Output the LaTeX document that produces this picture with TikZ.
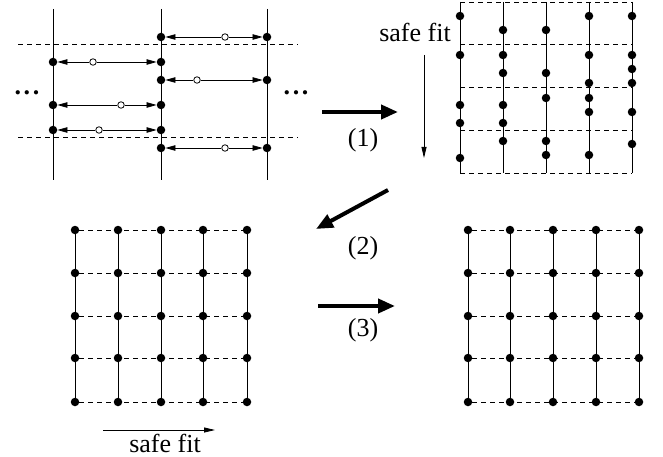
\documentclass[tikz,border=0pt]{standalone}
\usepackage{fontspec}
\setmainfont{Liberation Serif}
\usetikzlibrary{arrows.meta,positioning}
\tikzset{
  pdot/.style={circle, fill=black, inner sep=0pt, minimum size=8.5pt},
  odot/.style={circle, draw=black, fill=white, line width=0.8pt, inner sep=0pt, minimum size=6.5pt},
  colline/.style={line width=0.9pt},
  cutline/.style={line width=0.8pt, dash pattern=on 5pt off 4pt},
  pull/.style={-{Triangle[length=10pt,width=5.5pt]}, line width=0.8pt},
  fitarrow/.style={-{Triangle[length=11pt,width=5pt]}, line width=0.8pt},
  bigstep/.style={-{Triangle[length=17pt,width=14pt]}, line width=4pt},
  lbl/.style={font=\fontsize{26}{29}\selectfont, inner sep=0pt},
}

\begin{document}
\begin{tikzpicture}[x=1pt, y=-1pt]
  \useasboundingbox (0,0) rectangle (663,457);

  % panel 1: neighbouring columns before the fit
  \coordinate (v1t) at (53,9);   \coordinate (v1b) at (53,180);
  \coordinate (v2t) at (161,9);  \coordinate (v2b) at (161,180);
  \coordinate (v3t) at (267,9);  \coordinate (v3b) at (267,180);
  \coordinate (h1l) at (18,44);  \coordinate (h1r) at (298,44);
  \coordinate (h2l) at (18,137); \coordinate (h2r) at (298,137);
  \draw[colline] (v1t) -- (v1b);
  \draw[colline] (v2t) -- (v2b);
  \draw[colline] (v3t) -- (v3b);
  \draw[cutline] (h1l) -- (h1r);
  \draw[cutline] (h2l) -- (h2r);

  \node[pdot] (a1) at (53,62) {};
  \node[pdot] (a2) at (53,105) {};
  \node[pdot] (a3) at (53,130) {};
  \node[pdot] (b1) at (161,37) {};
  \node[pdot] (b2) at (161,62) {};
  \node[pdot] (b3) at (161,80) {};
  \node[pdot] (b4) at (161,105) {};
  \node[pdot] (b5) at (161,130) {};
  \node[pdot] (b6) at (161,148) {};
  \node[pdot] (c1) at (267,37) {};
  \node[pdot] (c2) at (267,80) {};
  \node[pdot] (c3) at (267,148) {};

  \node[odot] (o1) at (93,62) {};
  \node[odot] (o2) at (121,105) {};
  \node[odot] (o3) at (99,130) {};
  \node[odot] (o4) at (225,37) {};
  \node[odot] (o5) at (197,80) {};
  \node[odot] (o6) at (225,148) {};

  \draw[pull] (o1) -- (a1);  \draw[pull] (o1) -- (b2);
  \draw[pull] (o2) -- (a2);  \draw[pull] (o2) -- (b4);
  \draw[pull] (o3) -- (a3);  \draw[pull] (o3) -- (b5);
  \draw[pull] (o4) -- (b1);  \draw[pull] (o4) -- (c1);
  \draw[pull] (o5) -- (b3);  \draw[pull] (o5) -- (c2);
  \draw[pull] (o6) -- (b6);  \draw[pull] (o6) -- (c3);

  \node[lbl, anchor=base] (dotsl) at (27,95) {\bfseries .\kern2.6pt.\kern2.6pt.};
  \node[lbl, anchor=base] (dotsr) at (296,95) {\bfseries .\kern2.6pt.\kern2.6pt.};

  % panel 2: after the vertical fit
  \foreach \x [count=\i] in {460,503,546,589,632} {
    \coordinate (ct\i) at (\x,2);
    \coordinate (cb\i) at (\x,173);
    \draw[colline] (ct\i) -- (cb\i);
  }
  \draw[cutline] (ct1) -- (ct5);
  \draw[cutline] (cb1) -- (cb5);
  \foreach \y [count=\j] in {44,87,130} {
    \coordinate (rl\j) at (460,\y);
    \coordinate (rr\j) at (632,\y);
    \draw[cutline] (rl\j) -- (rr\j);
  }
  \foreach \y in {16,55,105,123,158} \node[pdot] at (460,\y) {};
  \foreach \y in {30,55,73,105,123,141} \node[pdot] at (503,\y) {};
  \foreach \y in {30,73,98,141,155} \node[pdot] at (546,\y) {};
  \foreach \y in {16,55,83,98,112,155} \node[pdot] at (589,\y) {};
  \foreach \y in {16,55,69,83,112,144} \node[pdot] at (632,\y) {};

  \node[lbl, anchor=base] (fitv) at (415,41.5) {safe fit};
  \coordinate (fvs) at (424,55);
  \coordinate (fve) at (424,158);
  \draw[fitarrow] (fvs) -- (fve);

  % panels 3 and 4: regular grids
  \foreach \x [count=\i] in {75,118,161,203,247}
    \foreach \y [count=\j] in {230,273,316,358,402}
      \node[pdot] (l-\i-\j) at (\x,\y) {};
  \foreach \x [count=\i] in {468,510,553,596,639}
    \foreach \y [count=\j] in {230,273,316,358,402}
      \node[pdot] (r-\i-\j) at (\x,\y) {};
  \foreach \i in {1,...,5} {
    \draw[colline] (l-\i-1) -- (l-\i-5);
    \draw[colline] (r-\i-1) -- (r-\i-5);
  }
  \foreach \j in {1,...,5} {
    \draw[cutline] (l-1-\j) -- (l-5-\j);
    \draw[cutline] (r-1-\j) -- (r-5-\j);
  }

  \coordinate (fhs) at (103,430);
  \coordinate (fhe) at (215,430);
  \draw[fitarrow] (fhs) -- (fhe);
  \node[lbl, anchor=base] (fith) at (165,452) {safe fit};

  % steps
  \coordinate (s1s) at (322,112); \coordinate (s1e) at (398,112);
  \coordinate (s2s) at (388,190); \coordinate (s2e) at (316,229);
  \coordinate (s3s) at (318,306); \coordinate (s3e) at (395,306);
  \draw[bigstep] (s1s) -- (s1e);
  \draw[bigstep] (s2s) -- (s2e);
  \draw[bigstep] (s3s) -- (s3e);
  \node[lbl] (n1) at (363,140) {(1)};
  \node[lbl] (n2) at (363,248) {(2)};
  \node[lbl] (n3) at (363,330) {(3)};
\end{tikzpicture}
\end{document}
